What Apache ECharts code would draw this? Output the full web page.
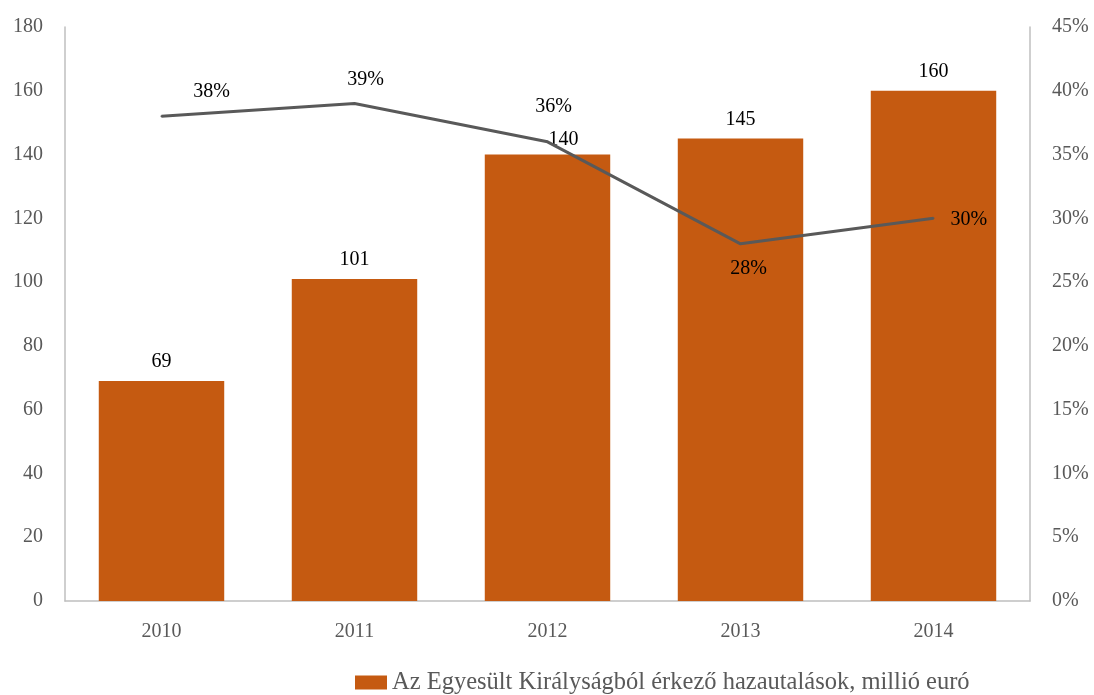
<!DOCTYPE html>
<html><head><meta charset="utf-8">
<script src="https://cdn.jsdelivr.net/npm/echarts@6/dist/echarts.min.js"></script>
<style>html,body{margin:0;padding:0;background:#fff}#c{width:1094px;height:695px}</style>
</head><body><div id="c"></div>
<script>
const years = ['2010','2011','2012','2013','2014'];
const remittances = [69, 101, 140, 145, 160];
const sharePct = [38, 39, 36, 28, 30];
const barName = 'Az Egyesült Királyságból érkező hazautalások, millió euró';
const lineName = 'Arány';

const FONT = '"Liberation Serif", "DejaVu Serif", serif';
const chart = echarts.init(document.getElementById('c'));
// label placement styles (per point)
const lineLabelCfg = [
  {position: 'top', offset: [50, -4]},
  {position: 'top', offset: [11, -3]},
  {position: 'top', offset: [6, -14]},
  {position: 'bottom', offset: [8, 4]},
  {position: 'right', offset: [6, 1]}
];
const barLabelCfg = [{}, {}, {offset: [16, 4]}, {}, {}];
chart.setOption({
  animation: false,
  textStyle: {fontFamily: FONT},
  legend: {
    data: [{name: barName, icon: 'rect'}], top: 665, left: 350,
    itemWidth: 32, itemHeight: 14, itemGap: 6,
    textStyle: {fontFamily: FONT, fontSize: 24.5, color: '#595959'}
  },
  grid: {left: 65, right: 64, top: 27, bottom: 94},
  xAxis: {
    type: 'category', data: years,
    axisLine: {lineStyle: {color: '#bfbfbf', width: 1.5}},
    axisTick: {show: false},
    axisLabel: {color: '#595959', fontSize: 20, fontFamily: FONT, margin: 21}
  },
  yAxis: [
    {type: 'value', min: 0, max: 180, interval: 20,
     axisLine: {show: true, lineStyle: {color: '#bfbfbf', width: 1.5}},
     axisTick: {show: false}, splitLine: {show: false},
     axisLabel: {color: '#595959', fontSize: 20, fontFamily: FONT, margin: 22}},
    {type: 'value', min: 0, max: 45, interval: 5,
     axisLine: {show: true, lineStyle: {color: '#bfbfbf', width: 1.5}},
     axisTick: {show: false}, splitLine: {show: false},
     axisLabel: {color: '#595959', fontSize: 20, fontFamily: FONT, margin: 22, formatter: '{value}%'}}
  ],
  series: [
    {name: barName, type: 'bar', barWidth: '65%',
     data: remittances.map((v, i) => ({value: v, label: Object.assign({}, barLabelCfg[i])})),
     itemStyle: {color: '#C55A11'},
     label: {show: true, position: 'top', distance: 9, color: '#000', fontSize: 20, fontFamily: FONT}},
    {name: lineName, type: 'line', yAxisIndex: 1, symbol: 'circle', symbolSize: 2, showSymbol: true,
     itemStyle: {color: '#595959'},
     lineStyle: {color: '#595959', width: 3},
     data: sharePct.map((v, i) => ({value: v, label: Object.assign({}, lineLabelCfg[i])})),
     label: {show: true, color: '#000', fontSize: 20, fontFamily: FONT, formatter: '{c}%', distance: 10}}
  ]
});
</script></body></html>
